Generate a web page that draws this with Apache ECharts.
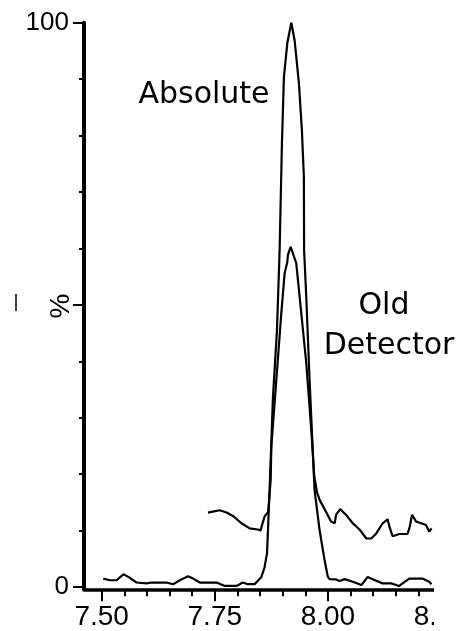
<!DOCTYPE html>
<html><head><meta charset="utf-8">
<script src="https://cdn.jsdelivr.net/npm/echarts@6/dist/echarts.min.js"></script>
<style>html,body{margin:0;padding:0;background:#fff}#c{width:461px;height:631px}</style>
</head><body><div id="c"></div>
<script>
const absTimes = [7.5035,7.518,7.533,7.548,7.559,7.577,7.599,7.61,7.643,7.658,7.676,7.691,7.702,7.717,7.754,7.772,7.798,7.812,7.823,7.838,7.853,7.860,7.8655,7.871,7.8786,7.8874,7.8933,7.8984,7.9028,7.9103,7.9191,7.9264,7.9359,7.9425,7.9469,7.9474,7.9522,7.9595,7.9705,7.9816,7.9926,7.9999,8.004,8.018,8.026,8.037,8.055,8.074,8.088,8.099,8.121,8.140,8.157,8.165,8.180,8.209,8.224,8.229];
const absValues = [1.5,1.2,1.2,2.25,1.8,0.8,0.65,0.8,0.8,0.5,1.35,1.9,1.5,0.8,0.8,0.2,0.2,0.8,0.5,0.5,1.8,3.5,6,17,33.7,45.5,59.7,78.6,90.4,96.4,100,96.9,89.3,81.0,72.7,59.7,51.4,36.7,17.2,10.1,4.8,1.8,1.4,1.35,1.06,1.4,0.94,0.35,1.8,1.4,0.65,0.65,0.18,0.65,1.5,1.5,0.94,0.5];
const oldTimes = [7.735,7.748,7.761,7.776,7.790,7.809,7.827,7.845,7.851,7.860,7.868,7.8735,7.875,7.886,7.897,7.9044,7.9103,7.9116,7.9176,7.930,7.9412,7.9522,7.9633,7.9700,7.976,7.982,7.996,8.007,8.015,8.018,8.027,8.040,8.055,8.070,8.085,8.096,8.107,8.121,8.132,8.136,8.143,8.158,8.176,8.181,8.186,8.195,8.206,8.217,8.224,8.229];
const oldValues = [13.2,13.4,13.6,13.2,12.6,11.3,10.4,10.2,10.0,12.5,13.3,19.0,24.9,36.7,48.5,55.6,57.6,58.8,60.3,57.4,48.5,39.7,27.8,19.5,16.8,15.4,13.3,11.6,11.3,12.8,13.8,12.8,11.3,10.2,8.6,8.6,9.5,11.3,12.0,10.7,9.0,9.4,9.4,10.7,12.8,11.6,11.3,11.0,9.8,10.4];
const xMajorTicks = [7.50, 7.75, 8.00, 8.25];
const xMinorTicks = [7.55, 7.60, 7.65, 7.70, 7.80, 7.85, 7.90, 7.95, 8.05, 8.10, 8.15, 8.20];
const yMajorTicks = [0, 50, 100];
const yMinorTicks = [10, 20, 30, 40, 60, 70, 80, 90];
const yTickLabels = [0, 100];
const seriesNames = ['Absolute', 'Old Detector'];

const zip = (a, b) => a.map((t, i) => [t, b[i]]);
const chart = echarts.init(document.getElementById('c'), null, {renderer: 'canvas'});
const black = '#000';
const tickFont = 'Liberation Sans, Arial, sans-serif';
const annFont = 'DejaVu Sans, Verdana, sans-serif';
const xRange = {min: 7.4609, max: 8.25};
const yRange = {min: -0.4, max: 100};
chart.setOption({
  animation: false,
  backgroundColor: '#fff',
  grid: {left: 84, right: 20, top: 22.7, bottom: 41.7, containLabel: false, outerBoundsMode: 'none'},
  xAxis: [
    Object.assign({type: 'value', position: 'bottom', splitLine: {show: false},
      axisLine: {show: true, onZero: false, lineStyle: {color: black, width: 3.5}},
      axisTick: {show: true, customValues: xMajorTicks, length: 12, lineStyle: {color: black, width: 2}},
      axisLabel: {customValues: xMajorTicks, formatter: v => v.toFixed(2), color: black, fontSize: 28, fontFamily: tickFont, margin: 14, showMaxLabel: true, showMinLabel: true, hideOverlap: false}
    }, xRange),
    Object.assign({type: 'value', position: 'bottom', splitLine: {show: false},
      axisLine: {show: false, onZero: false},
      axisTick: {show: true, customValues: xMinorTicks, length: 7, lineStyle: {color: black, width: 2}},
      axisLabel: {show: false}
    }, xRange)
  ],
  yAxis: [
    Object.assign({type: 'value', position: 'left', splitLine: {show: false},
      axisLine: {show: true, onZero: false, lineStyle: {color: black, width: 4}},
      axisTick: {show: true, customValues: yMajorTicks, length: 11, lineStyle: {color: black, width: 2}},
      axisLabel: {customValues: yTickLabels, color: black, fontSize: 26, fontFamily: tickFont, margin: 15},
      name: '%', nameLocation: 'middle', nameGap: 9, nameRotate: 90, nameMoveOverlap: false,
      nameTextStyle: {color: black, fontSize: 28, fontFamily: tickFont}
    }, yRange),
    Object.assign({type: 'value', position: 'left', splitLine: {show: false},
      axisLine: {show: false, onZero: false},
      axisTick: {show: true, customValues: yMinorTicks, length: 5, lineStyle: {color: black, width: 2}},
      axisLabel: {show: false}
    }, yRange)
  ],
  series: [
    {name: seriesNames[0], type: 'line', xAxisIndex: 0, yAxisIndex: 0, data: zip(absTimes, absValues), showSymbol: false, symbol: 'none', lineStyle: {color: black, width: 2.2}, z: 3},
    {name: seriesNames[1], type: 'line', xAxisIndex: 0, yAxisIndex: 0, data: zip(oldTimes, oldValues), showSymbol: false, symbol: 'none', lineStyle: {color: black, width: 2.2}, z: 3}
  ],
  graphic: [
    {type: 'text', x: 204, y: 95, style: {text: 'Absolute', fill: black, font: '30px ' + annFont, textAlign: 'center', textVerticalAlign: 'middle'}},
    {type: 'text', x: 384, y: 306, style: {text: 'Old', fill: black, font: '30px ' + annFont, textAlign: 'center', textVerticalAlign: 'middle'}},
    {type: 'text', x: 389, y: 346, style: {text: 'Detector', fill: black, font: '30px ' + annFont, textAlign: 'center', textVerticalAlign: 'middle'}},
    {type: 'rect', x: 434, y: 575, shape: {x: 0, y: 0, width: 30, height: 60}, style: {fill: '#fff'}, z: 100},
    {type: 'line', shape: {x1: 16, y1: 294, x2: 16, y2: 311}, style: {stroke: black, lineWidth: 1.5}}
  ]
});
</script></body></html>
